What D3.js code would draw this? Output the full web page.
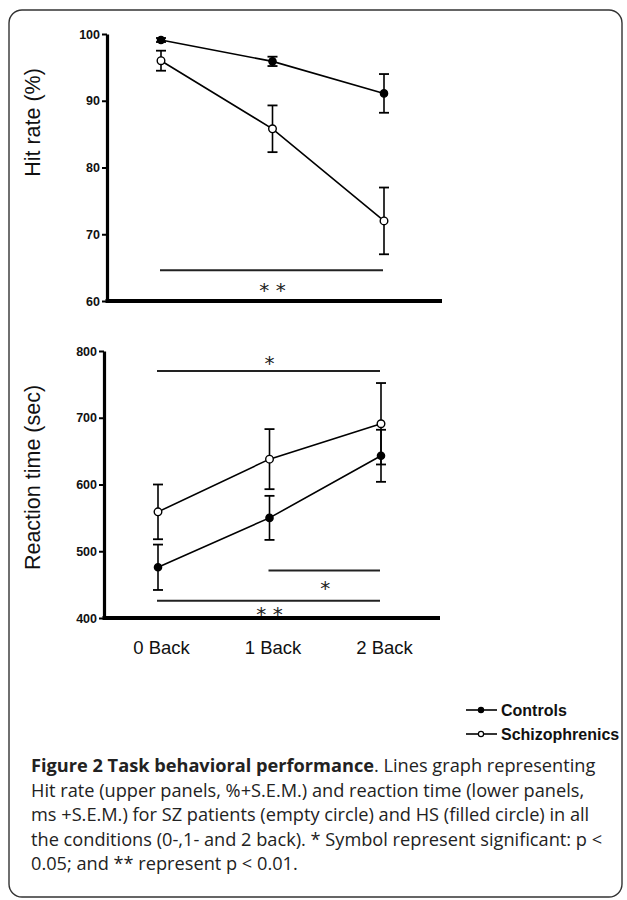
<!DOCTYPE html>
<html>
<head>
<meta charset="utf-8">
<script src="https://cdn.jsdelivr.net/npm/d3@7"></script>
<style>
  html, body { margin: 0; padding: 0; background: #fff; }
  svg { display: block; }
</style>
</head>
<body>
<svg id="chart" width="627" height="900"></svg>
<script>
// ---------- DATA ----------
const categories = ["0 Back", "1 Back", "2 Back"];
const seriesNames = ["Controls", "Schizophrenics"];

const hitTicks = [60, 70, 80, 90, 100];
const hitControls = [99.1, 95.9, 91.1];
const hitControlsSEM = [0.3, 0.7, 2.9];
const hitSchizo = [96.0, 85.8, 72.0];
const hitSchizoSEM = [1.5, 3.5, 5.0];

const rtTicks = [400, 500, 600, 700, 800];
const rtControls = [476, 550, 643];
const rtControlsSEM = [34, 33, 39];
const rtSchizo = [559, 638, 691];
const rtSchizoSEM = [41, 45, 61];

// significance annotations: [from, to, line value, label, label value]
const hitSig = [["0 Back", "2 Back", 64.6, "* *", 62.4]];
const rtSig = [
  ["0 Back", "2 Back", 770, "*", 790],
  ["1 Back", "2 Back", 471, "*", 453],
  ["0 Back", "2 Back", 426, "* *", 413.5]
];

const captionBold = "Figure 2 Task behavioral performance";
const captionLines = [
  ". Lines graph representing",
  "Hit rate (upper panels, %+S.E.M.) and reaction time (lower panels,",
  "ms +S.E.M.) for SZ patients (empty circle) and HS (filled circle) in all",
  "the conditions (0-,1- and 2 back). * Symbol represent significant: p <",
  "0.05; and ** represent p < 0.01."
];

// ---------- DRAW ----------
const svg = d3.select("#chart");

svg.append("rect")
  .attr("x", 9).attr("y", 10).attr("width", 613).attr("height", 887)
  .attr("rx", 13).attr("ry", 13)
  .attr("fill", "none").attr("stroke", "#333").attr("stroke-width", 1.4);

function panel(opts) {
  const g = svg.append("g");
  const x = d3.scalePoint().domain(categories)
    .range([opts.ax + 54, opts.ax + 277]);
  const y = d3.scaleLinear().domain(opts.domain).range([opts.bottom, opts.top]);

  // y axis
  const yAxis = d3.axisLeft(y).tickValues(opts.ticks).tickSize(5).tickSizeOuter(0).tickPadding(2);
  const ya = g.append("g").attr("transform", `translate(${opts.ax},0)`).call(yAxis);
  ya.select(".domain").attr("stroke", "#000").attr("stroke-width", 3.2);
  ya.selectAll(".tick line").attr("stroke", "#000").attr("stroke-width", 2);
  ya.selectAll(".tick text")
    .attr("font-family", "Liberation Sans, Arial, sans-serif")
    .attr("font-weight", "bold").attr("font-size", 12.5).attr("fill", "#111");

  // x axis line (no ticks)
  g.append("line")
    .attr("x1", opts.ax - 1.5).attr("x2", opts.axEnd)
    .attr("y1", opts.bottom).attr("y2", opts.bottom)
    .attr("stroke", "#000").attr("stroke-width", 4);

  // y label
  g.append("text")
    .attr("transform", `translate(${opts.labelX},${(opts.top + opts.bottom) / 2 + opts.labelDy}) rotate(-90)`)
    .attr("text-anchor", "middle")
    .attr("dominant-baseline", "central")
    .attr("font-family", "Liberation Sans, Arial, sans-serif")
    .attr("font-size", 21.5).attr("fill", "#111")
    .text(opts.label);

  const series = [
    { vals: opts.controls, sem: opts.controlsSEM, filled: true },
    { vals: opts.schizo, sem: opts.schizoSEM, filled: false }
  ];

  const line = d3.line().x((d, i) => x(categories[i])).y(d => y(d));

  series.forEach(s => {
    g.append("path").datum(s.vals)
      .attr("d", line).attr("fill", "none")
      .attr("stroke", "#000").attr("stroke-width", 1.6);
  });

  series.forEach(s => {
    const eb = g.append("g");
    s.vals.forEach((v, i) => {
      const cx = x(categories[i]);
      const hi = y(v + s.sem[i]), lo = y(v - s.sem[i]);
      eb.append("line").attr("x1", cx).attr("x2", cx).attr("y1", hi).attr("y2", lo)
        .attr("stroke", "#000").attr("stroke-width", 1.6);
      [hi, lo].forEach(yy => eb.append("line")
        .attr("x1", cx - 5).attr("x2", cx + 5).attr("y1", yy).attr("y2", yy)
        .attr("stroke", "#000").attr("stroke-width", 1.8));
    });
  });

  series.forEach(s => {
    g.selectAll(null).data(s.vals).enter().append("circle")
      .attr("cx", (d, i) => x(categories[i]))
      .attr("cy", d => y(d))
      .attr("r", s.filled ? 3.6 : 3.8)
      .attr("fill", s.filled ? "#000" : "#fff")
      .attr("stroke", "#000").attr("stroke-width", 1.4);
  });

  // significance
  const fs = 20;
  opts.sig.forEach(sg => {
    const x1 = x(sg[0]) - 1, x2 = x(sg[1]) - 1;
    g.append("line").attr("x1", x1).attr("x2", x2)
      .attr("y1", y(sg[2])).attr("y2", y(sg[2]))
      .attr("stroke", "#222").attr("stroke-width", 2);
    g.append("text")
      .attr("x", (x1 + x2) / 2 + 1)
      .attr("y", y(sg[4]) + fs * 0.6)
      .attr("text-anchor", "middle")
      .attr("font-family", "DejaVu Sans, sans-serif")
      .attr("font-size", fs).attr("fill", "#222")
      .text(sg[3]);
  });

  return { x, y, g };
}

panel({
  ax: 107, axEnd: 442, top: 34, bottom: 301, domain: [60, 100], ticks: hitTicks,
  controls: hitControls, controlsSEM: hitControlsSEM,
  schizo: hitSchizo, schizoSEM: hitSchizoSEM,
  label: "Hit rate (%)", labelX: 33, labelDy: -45, sig: hitSig
});

const bottom = panel({
  ax: 104, axEnd: 440, top: 351, bottom: 618, domain: [400, 800], ticks: rtTicks,
  controls: rtControls, controlsSEM: rtControlsSEM,
  schizo: rtSchizo, schizoSEM: rtSchizoSEM,
  label: "Reaction time (sec)", labelX: 33, labelDy: -7, sig: rtSig
});

// category labels
const xAxis = d3.axisBottom(bottom.x).tickSize(0).tickPadding(23);
const xa = svg.append("g").attr("transform", "translate(3,618)").call(xAxis);
xa.select(".domain").remove();
xa.selectAll(".tick text")
  .attr("font-family", "Liberation Sans, Arial, sans-serif")
  .attr("font-size", 18.5).attr("fill", "#111");

// legend
const legend = svg.append("g");
seriesNames.forEach((name, i) => {
  const ly = 710 + i * 24;
  legend.append("line").attr("x1", 466).attr("x2", 497).attr("y1", ly).attr("y2", ly)
    .attr("stroke", "#000").attr("stroke-width", 1.6);
  legend.append("circle").attr("cx", 481).attr("cy", ly).attr("r", 2.6)
    .attr("fill", i === 0 ? "#000" : "#fff").attr("stroke", "#000").attr("stroke-width", 1.2);
  legend.append("text").attr("x", 501).attr("y", ly)
    .attr("dominant-baseline", "central")
    .attr("font-family", "Liberation Sans, Arial, sans-serif")
    .attr("font-weight", "bold").attr("font-size", 16).attr("fill", "#111")
    .text(name);
});

// caption
const cap = svg.append("g")
  .attr("font-family", "Open Sans, sans-serif")
  .attr("font-size", 18.2).attr("fill", "#222");
captionLines.forEach((ln, i) => {
  const t = cap.append("text").attr("x", 31).attr("y", 772 + i * 24.5);
  if (i === 0) {
    t.append("tspan").attr("font-weight", "bold").text(captionBold);
  }
  t.append("tspan").text(ln);
});
</script>
</body>
</html>
